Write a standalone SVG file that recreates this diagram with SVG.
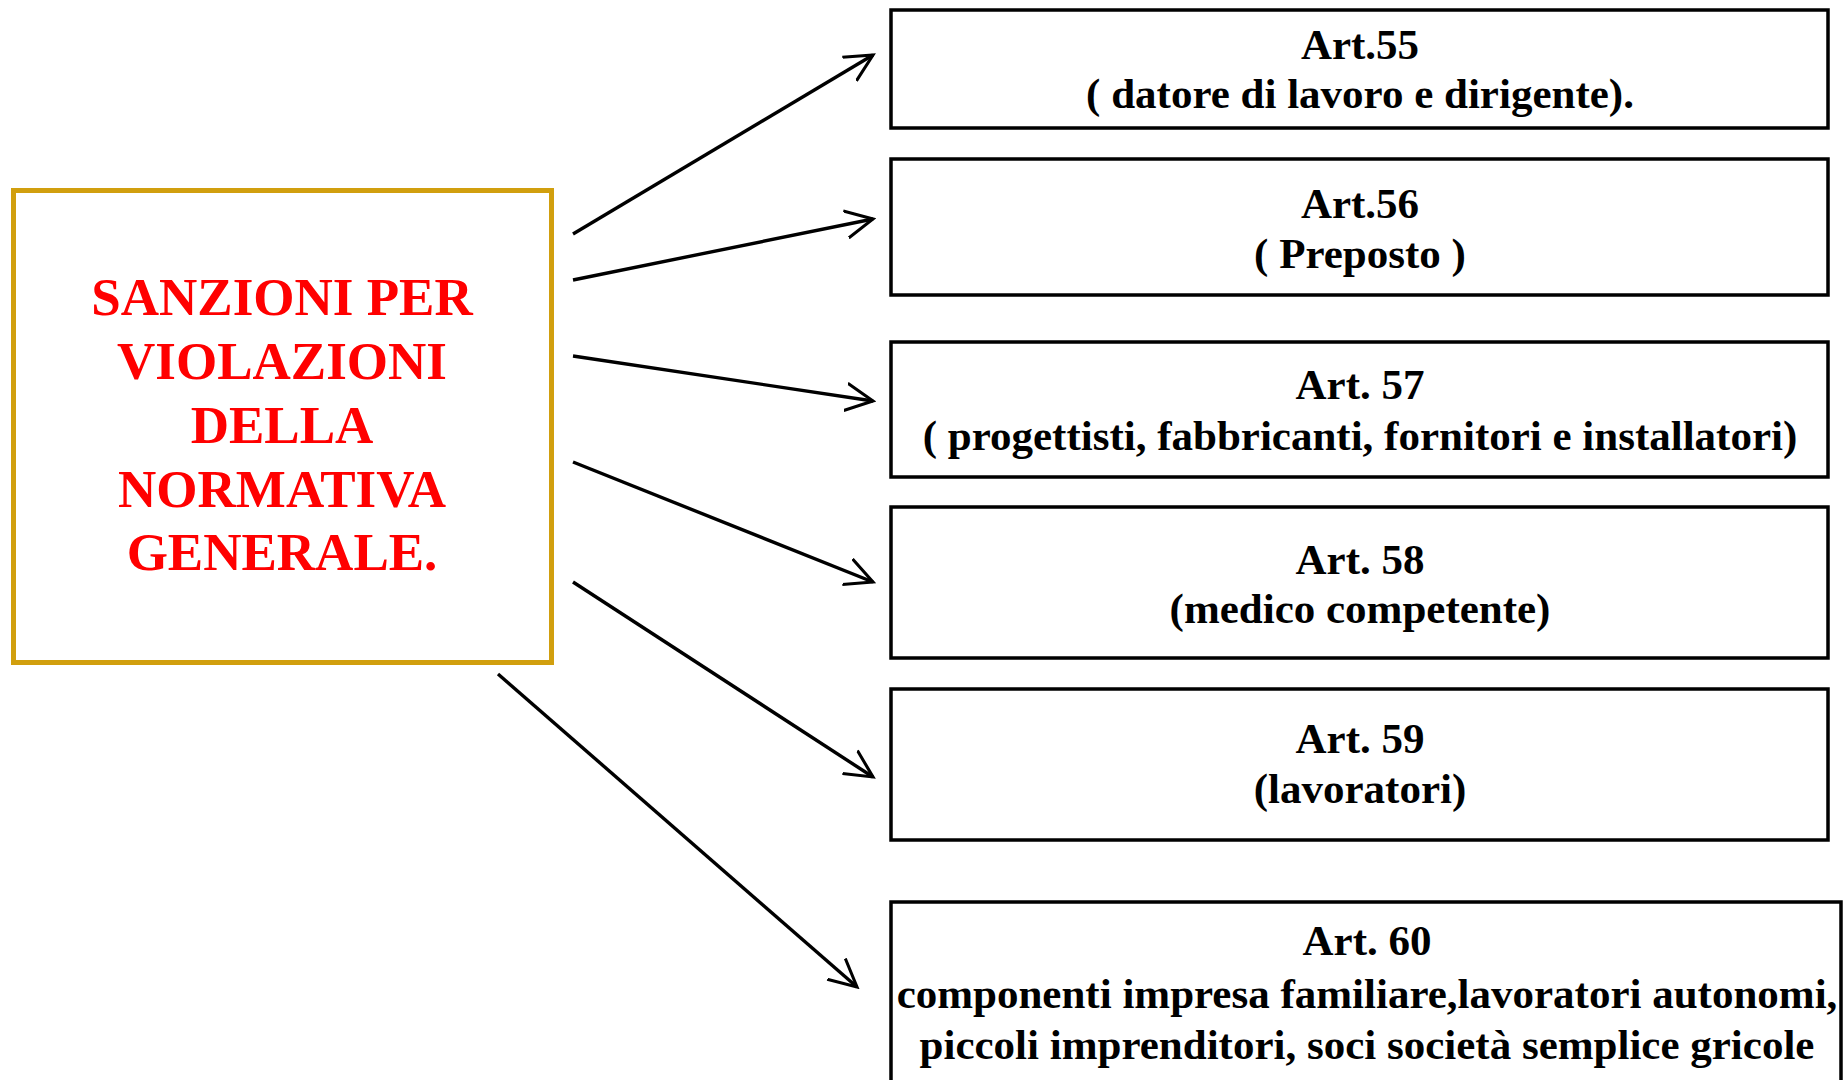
<svg xmlns="http://www.w3.org/2000/svg" width="1845" height="1080" viewBox="0 0 1845 1080">
  <defs>
    <style>
      .box { fill: #ffffff; stroke: #000000; stroke-width: 3.5; }
      .main { fill: #ffffff; stroke: #D19F0E; stroke-width: 5; }
      .t { font-family: "Liberation Serif", "Times New Roman", serif; font-weight: bold; font-size: 43px; fill: #000000; text-anchor: middle; }
      .r { font-family: "Liberation Serif", "Times New Roman", serif; font-weight: bold; font-size: 53px; fill: #FF0000; text-anchor: middle; }
      .conn { stroke: #000000; stroke-width: 3.4; fill: none; marker-end: url(#arr); }
    </style>
    <marker id="arr" viewBox="0 0 20 20" refX="18" refY="10" markerWidth="9" markerHeight="9" markerUnits="strokeWidth" orient="auto">
      <path d="M0,1 L18,10 L0,19" fill="none" stroke="#000000" stroke-width="2"/>
    </marker>
  </defs>
  <rect width="1845" height="1080" fill="#ffffff"/>

  <g id="node-main">
    <rect class="main" x="13.5" y="190.5" width="538" height="472"/>
    <text class="r" x="282" y="315">SANZIONI PER</text>
    <text class="r" x="282" y="379">VIOLAZIONI</text>
    <text class="r" x="282" y="443">DELLA</text>
    <text class="r" x="282" y="507">NORMATIVA</text>
    <text class="r" x="282" y="570">GENERALE.</text>
  </g>

  <g id="node-art55">
    <rect class="box" x="891" y="10" width="937" height="118"/>
    <text class="t" x="1360" y="59">Art.55</text>
    <text class="t" x="1360" y="108">( datore di lavoro e dirigente).</text>
  </g>

  <g id="node-art56">
    <rect class="box" x="891" y="159" width="937" height="136"/>
    <text class="t" x="1360" y="218">Art.56</text>
    <text class="t" x="1360" y="268">( Preposto )</text>
  </g>

  <g id="node-art57">
    <rect class="box" x="891" y="342" width="937" height="135"/>
    <text class="t" x="1360" y="399">Art. 57</text>
    <text class="t" x="1360" y="450">( progettisti, fabbricanti, fornitori e installatori)</text>
  </g>

  <g id="node-art58">
    <rect class="box" x="891" y="507" width="937" height="151"/>
    <text class="t" x="1360" y="574">Art. 58</text>
    <text class="t" x="1360" y="623">(medico competente)</text>
  </g>

  <g id="node-art59">
    <rect class="box" x="891" y="689" width="937" height="151"/>
    <text class="t" x="1360" y="753">Art. 59</text>
    <text class="t" x="1360" y="803">(lavoratori)</text>
  </g>

  <g id="node-art60">
    <rect class="box" x="891" y="902" width="950" height="200"/>
    <text class="t" x="1367" y="955">Art. 60</text>
    <text class="t" x="1367" y="1008">componenti impresa familiare,lavoratori autonomi,</text>
    <text class="t" x="1367" y="1059">piccoli imprenditori, soci società semplice gricole</text>
  </g>

  <g id="connectors">
    <line class="conn" x1="573" y1="234" x2="873" y2="55"/>
    <line class="conn" x1="573" y1="280" x2="873" y2="219"/>
    <line class="conn" x1="573" y1="356" x2="873" y2="401"/>
    <line class="conn" x1="573" y1="462" x2="873" y2="582"/>
    <line class="conn" x1="573" y1="582" x2="873" y2="777"/>
    <line class="conn" x1="498" y1="674" x2="857" y2="987"/>
  </g>
</svg>
